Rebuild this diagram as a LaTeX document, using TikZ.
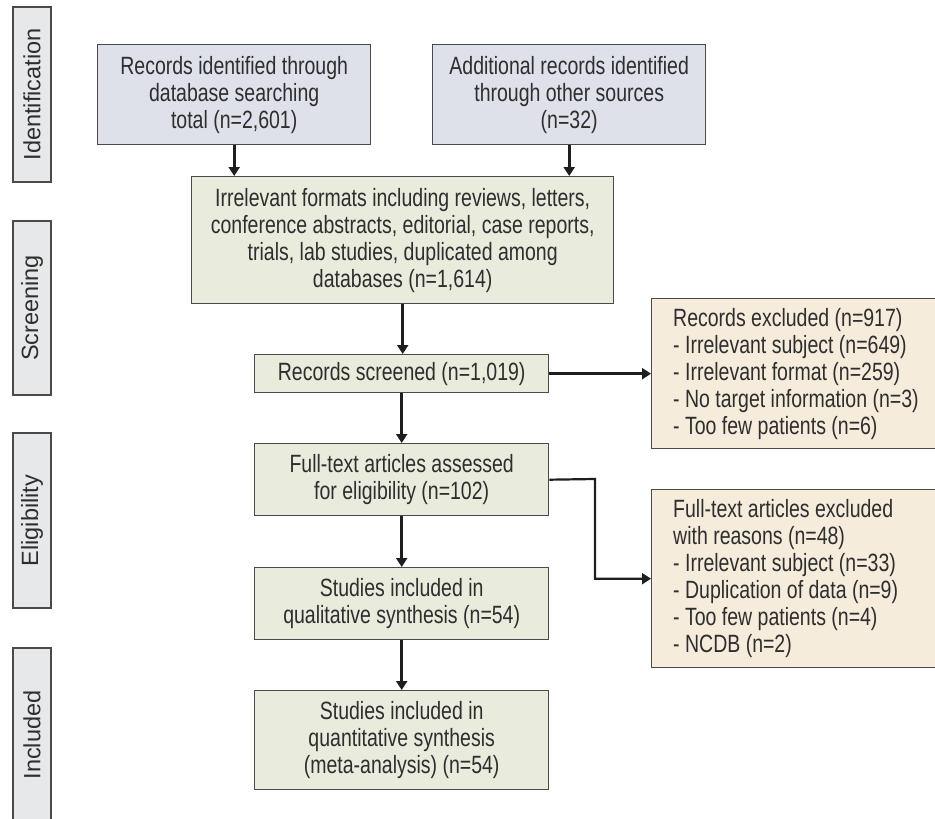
\documentclass[tikz,border=0pt]{standalone}
\usepackage{fontspec}
\setmainfont{Liberation Sans}
\newfontfamily\condfont{Liberation Sans}[FakeStretch=0.78]
\usetikzlibrary{arrows.meta}
\definecolor{bluefill}{HTML}{DFE1EA}
\definecolor{greenfill}{HTML}{E9EBDD}
\definecolor{orangefill}{HTML}{F6ECDC}
\definecolor{stagefill}{HTML}{E7E8EA}
\definecolor{edgecol}{HTML}{4A4A4A}
\definecolor{txtcol}{HTML}{2E2E2E}
\definecolor{arrcol}{HTML}{1E1E1E}
\begin{document}
\begin{tikzpicture}[x=1pt,y=-1pt,
  boxbase/.style={draw=edgecol, line width=1.4pt, inner sep=0pt, align=center,
    text=txtcol, font=\condfont\fontsize{25}{27}\selectfont},
  bluebox/.style={boxbase, fill=bluefill},
  greenbox/.style={boxbase, fill=greenfill},
  orangebox/.style={boxbase, fill=orangefill},
  otext/.style={inner sep=0pt, align=left, text=txtcol, font=\condfont\fontsize{25}{27}\selectfont},
  stage/.style={draw=edgecol, line width=1.4pt, fill=stagefill, inner sep=0pt, rotate=90,
    text=txtcol, font=\fontsize{23.5}{26}\selectfont},
  arr/.style={draw=arrcol, line width=3pt, -{Triangle[length=9pt,width=11pt]}},
  thinarr/.style={draw=arrcol, line width=2.2pt, -{Triangle[length=9pt,width=11pt]}}]
\useasboundingbox (0,0) rectangle (935,819);
\clip (0,0) rectangle (935,819);

% stage labels
\node[stage, minimum width=175, minimum height=38] (s1) at (32,94.5) {Identification};
\node[stage, minimum width=174, minimum height=38] (s2) at (32,308) {Screening};
\node[stage, minimum width=175, minimum height=38] (s3) at (32,520.5) {Eligibility};
\node[stage, minimum width=174, minimum height=38] (s4) at (32,735) {Included};

% boxes
\node[bluebox, minimum width=273, minimum height=100, anchor=north west] (b1) at (97,44)
  {Records identified through\\database searching\\total (n=2,601)};
\node[bluebox, minimum width=273, minimum height=100, anchor=north west] (b2) at (432,44)
  {Additional records identified\\through other sources\\(n=32)};
\node[greenbox, minimum width=422, minimum height=127, anchor=north west] (g1) at (191,176)
  {Irrelevant formats including reviews, letters,\\conference abstracts, editorial, case reports,\\trials, lab studies, duplicated among\\databases (n=1,614)};
\node[greenbox, minimum width=294, minimum height=38, anchor=north west] (rs) at (254,354)
  {Records screened (n=1,019)};
\node[greenbox, minimum width=294, minimum height=72, anchor=north west] (ft) at (254,443)
  {Full-text articles assessed\\for eligibility (n=102)};
\node[greenbox, minimum width=294, minimum height=72, anchor=north west] (ql) at (254,567)
  {Studies included in\\qualitative synthesis (n=54)};
\node[greenbox, minimum width=294, minimum height=99, anchor=north west] (qt) at (254,690)
  {Studies included in\\quantitative synthesis\\(meta-analysis) (n=54)};

\node[orangebox, minimum width=284, minimum height=150, anchor=north west] (ex1) at (651,298) {};
\node[otext, anchor=west] (ex1t) at ([xshift=22pt]ex1.west)
  {Records excluded (n=917)\\- Irrelevant subject (n=649)\\- Irrelevant format (n=259)\\- No target information (n=3)\\- Too few patients (n=6)};
\node[orangebox, minimum width=284, minimum height=178, anchor=north west] (ex2) at (651,489) {};
\node[otext, anchor=west] (ex2t) at ([xshift=22pt]ex2.west)
  {Full-text articles excluded\\with reasons (n=48)\\- Irrelevant subject (n=33)\\- Duplication of data (n=9)\\- Too few patients (n=4)\\- NCDB (n=2)};

% connectors
\draw[arr] (b1.south) -- (b1.south |- g1.north);
\draw[arr] (b2.south) -- (b2.south |- g1.north);
\draw[arr] (g1.south) -- (g1.south |- rs.north);
\draw[arr] (rs.south) -- (ft.north);
\draw[arr] (ft.south) -- (ql.north);
\draw[arr] (ql.south) -- (qt.north);
\draw[arr] (rs.east) -- (rs.east -| ex1.west);
\coordinate (elb) at (595,479);
\draw[thinarr] (ft.east) -- (elb) |- (ex2.west);
\end{tikzpicture}
\end{document}
